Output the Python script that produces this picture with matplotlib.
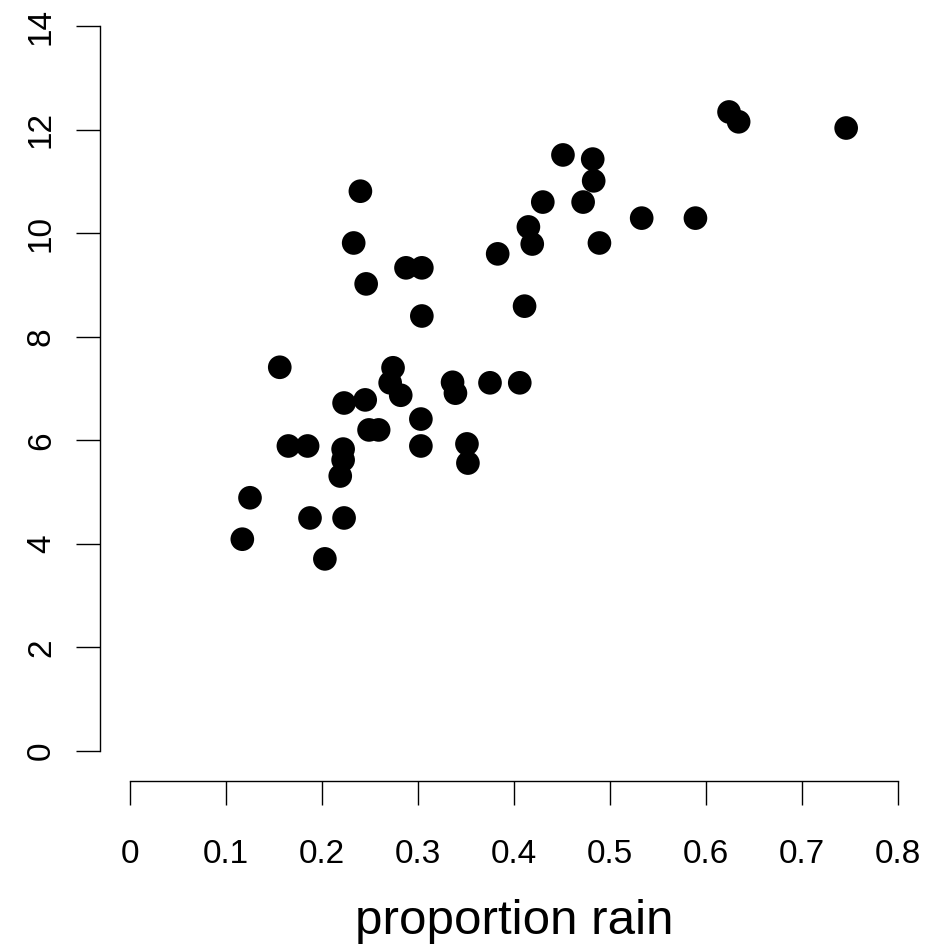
import matplotlib.pyplot as plt

plt.rcParams['font.family'] = ['Liberation Sans', 'DejaVu Sans']

# proportion of rain vs. response
rain = [0.117, 0.125, 0.156, 0.165, 0.185, 0.1875, 0.203, 0.219, 0.222, 0.222,
        0.223, 0.223, 0.233, 0.240, 0.246, 0.245, 0.249, 0.259, 0.274, 0.271,
        0.282, 0.2875, 0.304, 0.304, 0.303, 0.303, 0.336, 0.339, 0.351, 0.352,
        0.375, 0.383, 0.406, 0.411, 0.415, 0.419, 0.430, 0.451, 0.472, 0.482,
        0.483, 0.489, 0.533, 0.589, 0.624, 0.634, 0.746]
value = [4.09, 4.89, 7.41, 5.89, 5.89, 4.50, 3.71, 5.31, 5.62, 5.83,
         6.72, 4.50, 9.81, 10.81, 9.02, 6.78, 6.20, 6.20, 7.40, 7.11,
         6.87, 9.33, 9.33, 8.40, 6.41, 5.89, 7.12, 6.91, 5.93, 5.56,
         7.11, 9.60, 7.11, 8.59, 10.12, 9.79, 10.60, 11.51, 10.60, 11.43,
         11.01, 9.81, 10.29, 10.29, 12.34, 12.15, 12.03]

x_ticks = [0, 0.1, 0.2, 0.3, 0.4, 0.5, 0.6, 0.7, 0.8]
x_labels = ['0', '0.1', '0.2', '0.3', '0.4', '0.5', '0.6', '0.7', '0.8']
y_ticks = [0, 2, 4, 6, 8, 10, 12, 14]

W, H = 933, 951
fig = plt.figure(figsize=(W / 100, H / 100), dpi=100)
# data region in pixels: x 130..898, y 26..751 (from top)
ax = fig.add_axes([130 / W, (H - 751) / H, (898 - 130) / W, (751 - 26) / H])

ax.scatter(rain, value, s=290, color='black', edgecolors='none', clip_on=False)

ax.set_xlim(0, 0.8)
ax.set_ylim(0, 14)
ax.set_xticks(x_ticks)
ax.set_xticklabels(x_labels)
ax.set_yticks(y_ticks)

for side in ['top', 'right']:
    ax.spines[side].set_visible(False)
for side in ['left', 'bottom']:
    ax.spines[side].set_position(('outward', 21.6))
    ax.spines[side].set_linewidth(1.0)

ax.tick_params(axis='x', length=17, width=1.0, labelsize=24, pad=25)
ax.tick_params(axis='y', length=17, width=1.0, labelsize=24, pad=14,
               labelrotation=90)
for lab in ax.get_yticklabels():
    lab.set_verticalalignment('center')

ax.set_xlabel('proportion rain', fontsize=35.5, va='center')
ax.xaxis.set_label_coords(0.5, -0.2345)

fig.savefig('out.png', dpi=100)
